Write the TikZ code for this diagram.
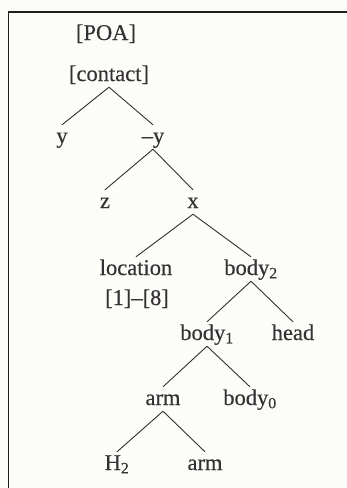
\documentclass[tikz,border=0pt]{standalone}
\usepackage{fontspec}
\setmainfont{Liberation Serif}
\definecolor{ink}{RGB}{52,48,52}
\definecolor{paper}{RGB}{252,252,248}
\tikzset{
    treenode/.style={font=\fontsize{22.5}{26}\selectfont\addfontfeatures{FakeBold=0.3},
        text=ink,anchor=base,inner xsep=1pt,inner ysep=2pt,text height=16pt,text depth=4pt},
    branch/.style={draw=ink,line width=0.9pt},
    frameline/.style={draw=black!88,line width=1.8pt}
}

\begin{document}
\begin{tikzpicture}[x=1pt,y=-1pt]
    % Page
    \fill[paper] (0,0) rectangle (347,488);
    \useasboundingbox (0,0) rectangle (347,488);
    \draw[frameline] (8.5,488) -- (8.5,12) -- (347,12);
    % Top features
    \node[treenode] (poa) at (106,40) {[POA]};
    \node[treenode] (contact) at (109,81) {[contact]};
    % Levels
    \node[treenode] (yplus) at (62,143) {y};
    \node[treenode] (yminus) at (153,143) {–y};
    \node[treenode] (z) at (105,208) {z};
    \node[treenode] (x) at (193,208) {x};
    \node[treenode] (location) at (136,275) {location};
    \node[treenode] (locrange) at (137,305) {[1]–[8]};
    \node[treenode] (bodytwo) at (251,275) {body\textsubscript{2}};
    \node[treenode] (bodyone) at (207,340) {body\textsubscript{1}};
    \node[treenode] (head) at (293,340) {head};
    \node[treenode] (armup) at (163,405) {arm};
    \node[treenode] (bodyzero) at (250,405) {body\textsubscript{0}};
    \node[treenode] (htwo) at (117,470) {H\textsubscript{2}};
    \node[treenode] (armlow) at (205,470) {arm};
    % Branches
    \draw[branch] (contact.south) -- (yplus.north);
    \draw[branch] (contact.south) -- (yminus.north);
    \draw[branch] (yminus.south) -- (z.north);
    \draw[branch] (yminus.south) -- (x.north);
    \draw[branch] (x.south) -- (location.north);
    \draw[branch] (x.south) -- (bodytwo.north);
    \draw[branch] (bodytwo.south) -- (bodyone.north);
    \draw[branch] (bodytwo.south) -- (head.north);
    \draw[branch] (bodyone.south) -- (armup.north);
    \draw[branch] (bodyone.south) -- (bodyzero.north);
    \draw[branch] (armup.south) -- (htwo.north);
    \draw[branch] (armup.south) -- (armlow.north);
\end{tikzpicture}
\end{document}
